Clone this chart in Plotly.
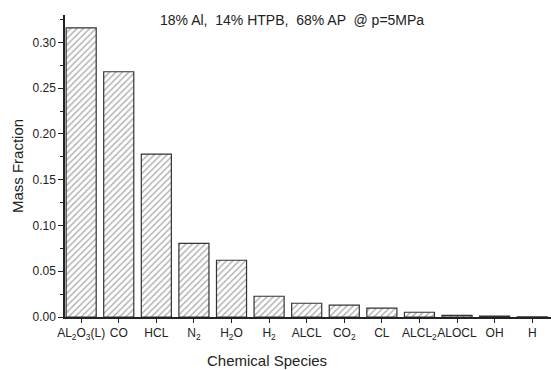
import plotly.graph_objects as go

species = ["AL<sub>2</sub>O<sub>3</sub>(L)", "CO", "HCL", "N<sub>2</sub>", "H<sub>2</sub>O", "H<sub>2</sub>",
           "ALCL", "CO<sub>2</sub>", "CL", "ALCL<sub>2</sub>", "ALOCL", "OH", "H"]
mass_fraction = [0.316, 0.268, 0.178, 0.0805, 0.062, 0.0227, 0.015, 0.013, 0.0098, 0.0052, 0.0018, 0.0009, 0.0002]
y_ticks = [0.00, 0.05, 0.10, 0.15, 0.20, 0.25, 0.30]
title_text = "18% Al,  14% HTPB,  68% AP  @ p=5MPa"

x_idx = list(range(len(species)))

fig = go.Figure()
fig.add_trace(go.Bar(
    x=x_idx, y=mass_fraction, width=0.8,
    marker=dict(color="white",
                line=dict(color="#333333", width=1.2),
                pattern=dict(shape="/", fgcolor="#555555", bgcolor="white", size=4.5, solidity=0.3)),
))

font = "Liberation Sans, Arial, sans-serif"
fig.update_layout(
    width=551, height=370,
    margin=dict(l=65, r=0, t=15, b=53),
    plot_bgcolor="white", paper_bgcolor="white",
    showlegend=False,
    font=dict(family=font, size=12, color="#222222"),
)
fig.update_xaxes(
    range=[-0.43, 12.5],
    tickmode="array", tickvals=x_idx, ticktext=species, tickangle=0,
    tickson="boundaries", ticks="outside", ticklen=4, tickcolor="#222222",
    showline=True, linecolor="#222222", linewidth=1.5,
    showgrid=False, zeroline=False,
    tickfont=dict(size=12),
)
fig.update_yaxes(
    range=[0, 0.33],
    tickmode="array", tickvals=y_ticks, ticktext=[f"{v:.2f}" for v in y_ticks],
    ticks="outside", ticklen=5, tickcolor="#222222",
    minor=dict(dtick=0.025, ticks="outside", ticklen=3, tickcolor="#222222"),
    showline=True, linecolor="#222222", linewidth=1.5,
    showgrid=False, zeroline=False,
    tickfont=dict(size=12),
    title=dict(text="Mass Fraction", font=dict(size=15), standoff=5),
)
fig.add_annotation(text=title_text, xref="paper", yref="paper", x=(292-65)/486, y=(317-20)/302,
                   showarrow=False, font=dict(size=14, color="#222222"), xanchor="center", yanchor="middle")
fig.add_annotation(text="Chemical Species", xref="paper", yref="paper", x=(267-65)/486, y=-0.11,
                   showarrow=False, font=dict(size=15, color="#222222"), xanchor="center", yanchor="top")

fig.write_html("out.html")
